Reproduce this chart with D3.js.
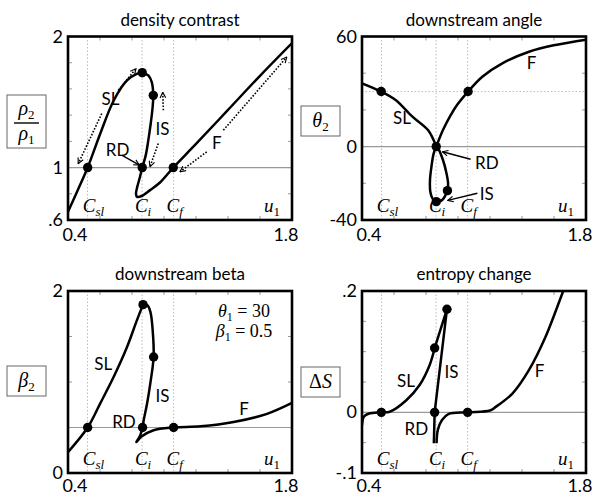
<!DOCTYPE html>
<html>
<head>
<meta charset="utf-8">
<script src="https://cdn.jsdelivr.net/npm/d3@7"></script>
<style>
body { margin: 0; background: #fff; }
svg { display: block; }
</style>
</head>
<body>
<svg width="596" height="497"></svg>
<script>
//--------------------------DATA------------------------------------------------
var uDomain = [0.4, 1.8];
var uTicks = [0.6, 0.8, 1.0, 1.2, 1.4, 1.6];
var uTickLabels = ["0.4", "1.8"];
var critU = [0.522, 0.863, 1.06];          // C_sl, C_i, C_f
var critNames = ["sl", "i", "f"];

// density contrast rho2/rho1
var rhoSL = [[0.4,0.663],[0.462,0.83],[0.523,1.0],[0.602,1.26],[0.685,1.51],[0.769,1.665],[0.83,1.715],[0.864,1.724]];
var rhoIS = [[0.864,1.724],[0.902,1.703],[0.923,1.653],[0.933,1.551],[0.929,1.462],[0.917,1.336],[0.902,1.209],[0.886,1.095],[0.864,1.0]];
var rhoF  = [[0.864,1.0],[0.85,0.93],[0.833,0.853],[0.825,0.80],[0.832,0.777],[0.86,0.783],[0.913,0.828],[0.975,0.886],[1.058,1.0],[1.2,1.18],[1.4,1.44],[1.6,1.70],[1.8,1.95]];
var rhoDots = [[0.523,1.0],[0.864,1.724],[0.933,1.551],[0.864,1.0],[1.058,1.0]];
var rhoTicks = [0.8, 1.0, 1.2, 1.4, 1.6, 1.8];
var rhoTickLabels = [[2, "2"], [1, "1"], [0.6, ".6"]];

// downstream angle theta2
var thSL = [[0.4,34.5],[0.52,30],[0.61,25.4],[0.715,16.3],[0.8125,9],[0.864,0]];
var thIS = [[0.864,0],[0.875,-0.9],[0.906,-7.3],[0.928,-14.5],[0.938,-20],[0.934,-24],[0.917,-27.3],[0.896,-29.5],[0.864,-30]];
var thF  = [[0.864,-30],[0.84,-28.2],[0.827,-24.6],[0.825,-18.2],[0.834,-11],[0.848,-3.7],[0.864,0],[0.906,9],[0.95,16.5],[0.995,22.8],[1.063,30],[1.152,38.1],[1.277,45.4],[1.444,51.7],[1.61,55.4],[1.8,58.3]];
var thDots = [[0.52,30],[0.864,0],[0.934,-24],[0.864,-30],[1.063,30]];
var thTicks = [-20, 0, 20, 40];
var thTickLabels = [[60, "60"], [0, "0"], [-40, "-40"]];

// downstream beta
var bSL = [[0.4,0.23],[0.523,0.5],[0.6,0.76],[0.685,1.055],[0.769,1.385],[0.831,1.68],[0.869,1.85]];
var bIS = [[0.869,1.85],[0.895,1.845],[0.915,1.77],[0.93,1.55],[0.935,1.275],[0.914,0.98],[0.894,0.76],[0.873,0.58],[0.866,0.5]];
var bF  = [[0.866,0.5],[0.848,0.40],[0.827,0.34],[0.859,0.40],[0.935,0.47],[1.06,0.5],[1.229,0.513],[1.435,0.56],[1.644,0.65],[1.8,0.77]];
var bDots = [[0.523,0.5],[0.869,1.85],[0.935,1.275],[0.866,0.5],[1.06,0.5]];
var bTicks = [0.5, 1.0, 1.5];
var bTickLabels = [[2, "2"], [0, "0"]];

// entropy change
var sSL = [[0.4,-0.021],[0.4125,-0.007],[0.444,-0.002],[0.521,0],[0.573,0.001],[0.677,0.02],[0.76,0.045],[0.823,0.078],[0.854,0.106]];
var sIS = [[0.854,0.106],[0.931,0.170],[0.854,0],[0.849,-0.051]];
var sF  = [[0.866,-0.051],[0.874,-0.029],[0.9,-0.0127],[0.94,-0.003],[1.06,0],[1.2,0.003],[1.236,0.009],[1.34,0.031],[1.444,0.070],[1.548,0.125],[1.652,0.196],[1.68,0.215]];
var sDots = [[0.521,0],[0.854,0.106],[0.931,0.170],[0.854,0],[1.06,0]];
var sTicks = [-0.05, 0, 0.05, 0.1, 0.15];
var sTickLabels = [[0.2, ".2"], [0, "0"], [-0.1, "-.1"]];

//--------------------------PANELS----------------------------------------------
var svg = d3.select("svg");
var W = 224;
var sans = "Lato, 'Open Sans', sans-serif";
var serif = "'Liberation Serif', 'DejaVu Serif', serif";

var defs = svg.append("defs");
defs.append("marker")
    .attr("id", "head")
    .attr("viewBox", "0 0 10 10")
    .attr("refX", 9).attr("refY", 5)
    .attr("markerWidth", 7).attr("markerHeight", 7)
    .attr("markerUnits", "userSpaceOnUse")
    .attr("orient", "auto")
    .append("path")
    .attr("d", "M1,1 L9,5 L1,9")
    .style("fill", "none")
    .style("stroke", "#000")
    .style("stroke-width", 1.6);

function sub(t, s) {
    t.append("tspan").attr("dy", 4).style("font-style", "normal").style("font-size", "13px").text(s);
}

function drawPanel(p, idx) {
    var x = d3.scaleLinear().domain(uDomain).range([p.left, p.left + W]);
    var y = d3.scaleLinear().domain(p.yDomain).range([p.top + p.h, p.top]);
    var g = svg.append("g");

    defs.append("clipPath").attr("id", "clip" + idx)
        .append("rect")
        .attr("x", p.left).attr("y", p.top).attr("width", W).attr("height", p.h);

    // critical speed guides
    g.selectAll(".crit")
        .data(critU)
        .enter().append("line")
        .attr("x1", function(d) { return x(d); })
        .attr("x2", function(d) { return x(d); })
        .attr("y1", p.top).attr("y2", p.top + p.h)
        .style("stroke", "#bbb")
        .style("stroke-width", 1)
        .style("stroke-dasharray", "1.5,2");

    if (p.dotLevel !== undefined) {
        g.append("line")
            .attr("x1", p.left).attr("x2", p.left + W)
            .attr("y1", y(p.dotLevel)).attr("y2", y(p.dotLevel))
            .style("stroke", "#bbb")
            .style("stroke-width", 1)
            .style("stroke-dasharray", "1.5,2");
    }

    // reference level
    g.append("line")
        .attr("x1", p.left).attr("x2", p.left + W)
        .attr("y1", y(p.ref)).attr("y2", y(p.ref))
        .style("stroke", "#999")
        .style("stroke-width", 1.2);

    // inner ticks on all sides
    uTicks.forEach(function(t) {
        [p.top + p.h, p.top].forEach(function(yy, k) {
            g.append("line")
                .attr("x1", x(t)).attr("x2", x(t))
                .attr("y1", yy).attr("y2", k === 0 ? yy - 4 : yy + 4)
                .style("stroke", "#999");
        });
    });
    p.ticks.forEach(function(t) {
        [p.left, p.left + W].forEach(function(xx, k) {
            g.append("line")
                .attr("x1", xx).attr("x2", k === 0 ? xx + 4 : xx - 4)
                .attr("y1", y(t)).attr("y2", y(t))
                .style("stroke", "#999");
        });
    });

    // curves
    var smooth = d3.line()
        .x(function(d) { return x(d[0]); })
        .y(function(d) { return y(d[1]); })
        .curve(d3.curveCatmullRom.alpha(0.5));
    var straight = d3.line()
        .x(function(d) { return x(d[0]); })
        .y(function(d) { return y(d[1]); });
    var cg = g.append("g").attr("clip-path", "url(#clip" + idx + ")");
    p.curves.forEach(function(c) {
        cg.append("path")
            .attr("d", (c.straight ? straight : smooth)(c.values))
            .style("fill", "none")
            .style("stroke", "#000")
            .style("stroke-width", 2.5)
            .style("stroke-linejoin", "round");
    });

    // dots
    g.selectAll(".dot")
        .data(p.dots)
        .enter().append("circle")
        .attr("r", 4.7)
        .attr("cx", function(d) { return x(d[0]); })
        .attr("cy", function(d) { return y(d[1]); })
        .style("fill", "#000");

    // annotation arrows
    (p.arrows || []).forEach(function(a) {
        g.append("line")
            .attr("x1", x(a.from[0])).attr("y1", y(a.from[1]))
            .attr("x2", x(a.to[0])).attr("y2", y(a.to[1]))
            .style("stroke", "#000")
            .style("stroke-width", a.dotted ? 1.6 : 1.4)
            .style("stroke-dasharray", a.dotted ? "1.6,1.6" : null)
            .attr("marker-end", "url(#head)");
    });

    // frame
    g.append("rect")
        .attr("x", p.left).attr("y", p.top)
        .attr("width", W).attr("height", p.h)
        .style("fill", "none")
        .style("stroke", "#000")
        .style("stroke-width", 2.6);

    // title
    g.append("text")
        .attr("x", p.left + W / 2).attr("y", p.top - 11)
        .attr("text-anchor", "middle")
        .style("font-family", sans).style("font-size", "17px")
        .text(p.title);

    // y tick labels
    p.tickLabels.forEach(function(t) {
        g.append("text")
            .attr("x", p.left - 5).attr("y", y(t[0]) + 6)
            .attr("text-anchor", "end")
            .style("font-family", sans).style("font-size", "18px")
            .text(t[1]);
    });
    // x tick labels
    uDomain.forEach(function(u, i) {
        g.append("text")
            .attr("x", x(u) + (i === 0 ? 7 : -6)).attr("y", Math.min(p.top + p.h + 21, 492))
            .attr("text-anchor", "middle")
            .style("font-family", sans).style("font-size", "18px")
            .text(uTickLabels[i]);
    });

    // critical speed labels
    critU.forEach(function(c, i) {
        var t = g.append("text")
            .attr("x", x(c) + (i === 0 ? 6 : 1)).attr("y", p.top + p.h - 8)
            .attr("text-anchor", "middle")
            .style("font-family", serif).style("font-style", "italic").style("font-size", "19px");
        t.append("tspan").text("C");
        t.append("tspan").attr("dy", 4).style("font-size", "13px").text(critNames[i]);
    });
    var ul = g.append("text")
        .attr("x", p.left + W - 20).attr("y", p.top + p.h - 8)
        .attr("text-anchor", "middle")
        .style("font-family", serif).style("font-style", "italic").style("font-size", "19px");
    ul.append("tspan").text("u");
    sub(ul, "1");

    // curve labels
    p.labels.forEach(function(l) {
        g.append("text")
            .attr("x", x(l[0])).attr("y", y(l[1]))
            .attr("text-anchor", "middle")
            .attr("dominant-baseline", "central")
            .style("font-family", sans).style("font-size", "17px")
            .text(l[2]);
    });

    // y label box
    var bx = p.left - 61, bw = 39;
    var bh = p.frac ? 53 : 30;
    var by = p.boxY;
    g.append("rect")
        .attr("x", bx).attr("y", by).attr("width", bw).attr("height", bh)
        .style("fill", "#fff").style("stroke", "#666").style("stroke-width", 1);
    if (p.frac) {
        var top = g.append("text").attr("x", bx + bw / 2).attr("y", by + 20)
            .attr("text-anchor", "middle").style("font-family", serif).style("font-style", "italic").style("font-size", "20px");
        top.append("tspan").text("\u03c1");
        sub(top, "2");
        g.append("line").attr("x1", bx + 7).attr("x2", bx + bw - 7)
            .attr("y1", by + 28).attr("y2", by + 28)
            .style("stroke", "#000").style("stroke-width", 1.4);
        var bot = g.append("text").attr("x", bx + bw / 2).attr("y", by + 45)
            .attr("text-anchor", "middle").style("font-family", serif).style("font-style", "italic").style("font-size", "20px");
        bot.append("tspan").text("\u03c1");
        sub(bot, "1");
    } else {
        var yl = g.append("text").attr("x", bx + bw / 2).attr("y", by + 21)
            .attr("text-anchor", "middle").style("font-family", serif).style("font-size", "20px");
        if (p.ylab[0]) yl.append("tspan").text(p.ylab[0]);
        yl.append("tspan").style("font-style", "italic").text(p.ylab[1]);
        if (p.ylab[2]) sub(yl, p.ylab[2]);
    }

    // parameter note
    if (p.note) {
        p.note.forEach(function(n, i) {
            var t = g.append("text")
                .attr("x", p.left + W - 48).attr("y", p.top + 26 + i * 20)
                .attr("text-anchor", "middle")
                .style("font-family", serif).style("font-style", "italic").style("font-size", "18px");
            t.append("tspan").text(n[0]);
            t.append("tspan").attr("dy", 4).style("font-style", "normal").style("font-size", "12px").text("1");
            t.append("tspan").attr("dy", -4).style("font-style", "normal").text(" = " + n[1]);
        });
    }
}

var panels = [
    {
        title: "density contrast", left: 68, top: 36.5, h: 183.5,
        yDomain: [0.6, 2], ref: 1, ticks: rhoTicks, tickLabels: rhoTickLabels,
        curves: [{values: rhoSL}, {values: rhoIS}, {values: rhoF}], dots: rhoDots,
        labels: [[0.665, 1.53, "SL"], [0.99, 1.3, "IS"], [0.71, 1.14, "RD"], [1.33, 1.19, "F"]],
        arrows: [
            {from: [0.611, 1.412], to: [0.464, 1.03], dotted: true},
            {from: [0.714, 1.589], to: [0.825, 1.755], dotted: true},
            {from: [0.996, 1.437], to: [0.992, 1.575], dotted: true},
            {from: [0.964, 1.184], to: [0.9125, 1.006], dotted: true},
            {from: [1.267, 1.12], to: [1.1, 0.968], dotted: true},
            {from: [1.371, 1.285], to: [1.767, 1.843], dotted: true},
            {from: [0.736, 1.095], to: [0.846, 1.019], dotted: false}
        ],
        frac: true, boxY: 95
    },
    {
        title: "downstream angle", left: 362, top: 36.5, h: 183.5,
        yDomain: [-40, 60], ref: 0, dotLevel: 30, ticks: thTicks, tickLabels: thTickLabels,
        curves: [{values: thSL}, {values: thIS}, {values: thF}], dots: thDots,
        labels: [[0.65, 16, "SL"], [1.46, 46, "F"], [1.18, -8.7, "RD"], [1.18, -25.8, "IS"]],
        arrows: [
            {from: [1.079, -6.9], to: [0.9025, -2.8], dotted: false},
            {from: [1.121, -25.4], to: [0.936, -29.3], dotted: false}
        ],
        ylab: [null, "\u03b8", "2"], boxY: 106
    },
    {
        title: "downstream beta", left: 68, top: 291, h: 182,
        yDomain: [0, 2], ref: 0.5, ticks: bTicks, tickLabels: bTickLabels,
        curves: [{values: bSL}, {values: bIS}, {values: bF}], dots: bDots,
        labels: [[0.62, 1.2, "SL"], [0.99, 0.85, "IS"], [0.75, 0.57, "RD"], [1.5, 0.71, "F"]],
        ylab: [null, "\u03b2", "2"], boxY: 366,
        note: [["\u03b8", "30"], ["\u03b2", "0.5"]]
    },
    {
        title: "entropy change", left: 362, top: 291, h: 182,
        yDomain: [-0.1, 0.2], ref: 0, ticks: sTicks, tickLabels: sTickLabels,
        curves: [{values: sSL}, {values: sIS, straight: true}, {values: sF}], dots: sDots,
        labels: [[0.675, 0.053, "SL"], [0.96, 0.068, "IS"], [0.74, -0.027, "RD"], [1.51, 0.069, "F"]],
        ylab: ["\u0394", "S", null], boxY: 367
    }
];

panels.forEach(drawPanel);
</script>
</body>
</html>
